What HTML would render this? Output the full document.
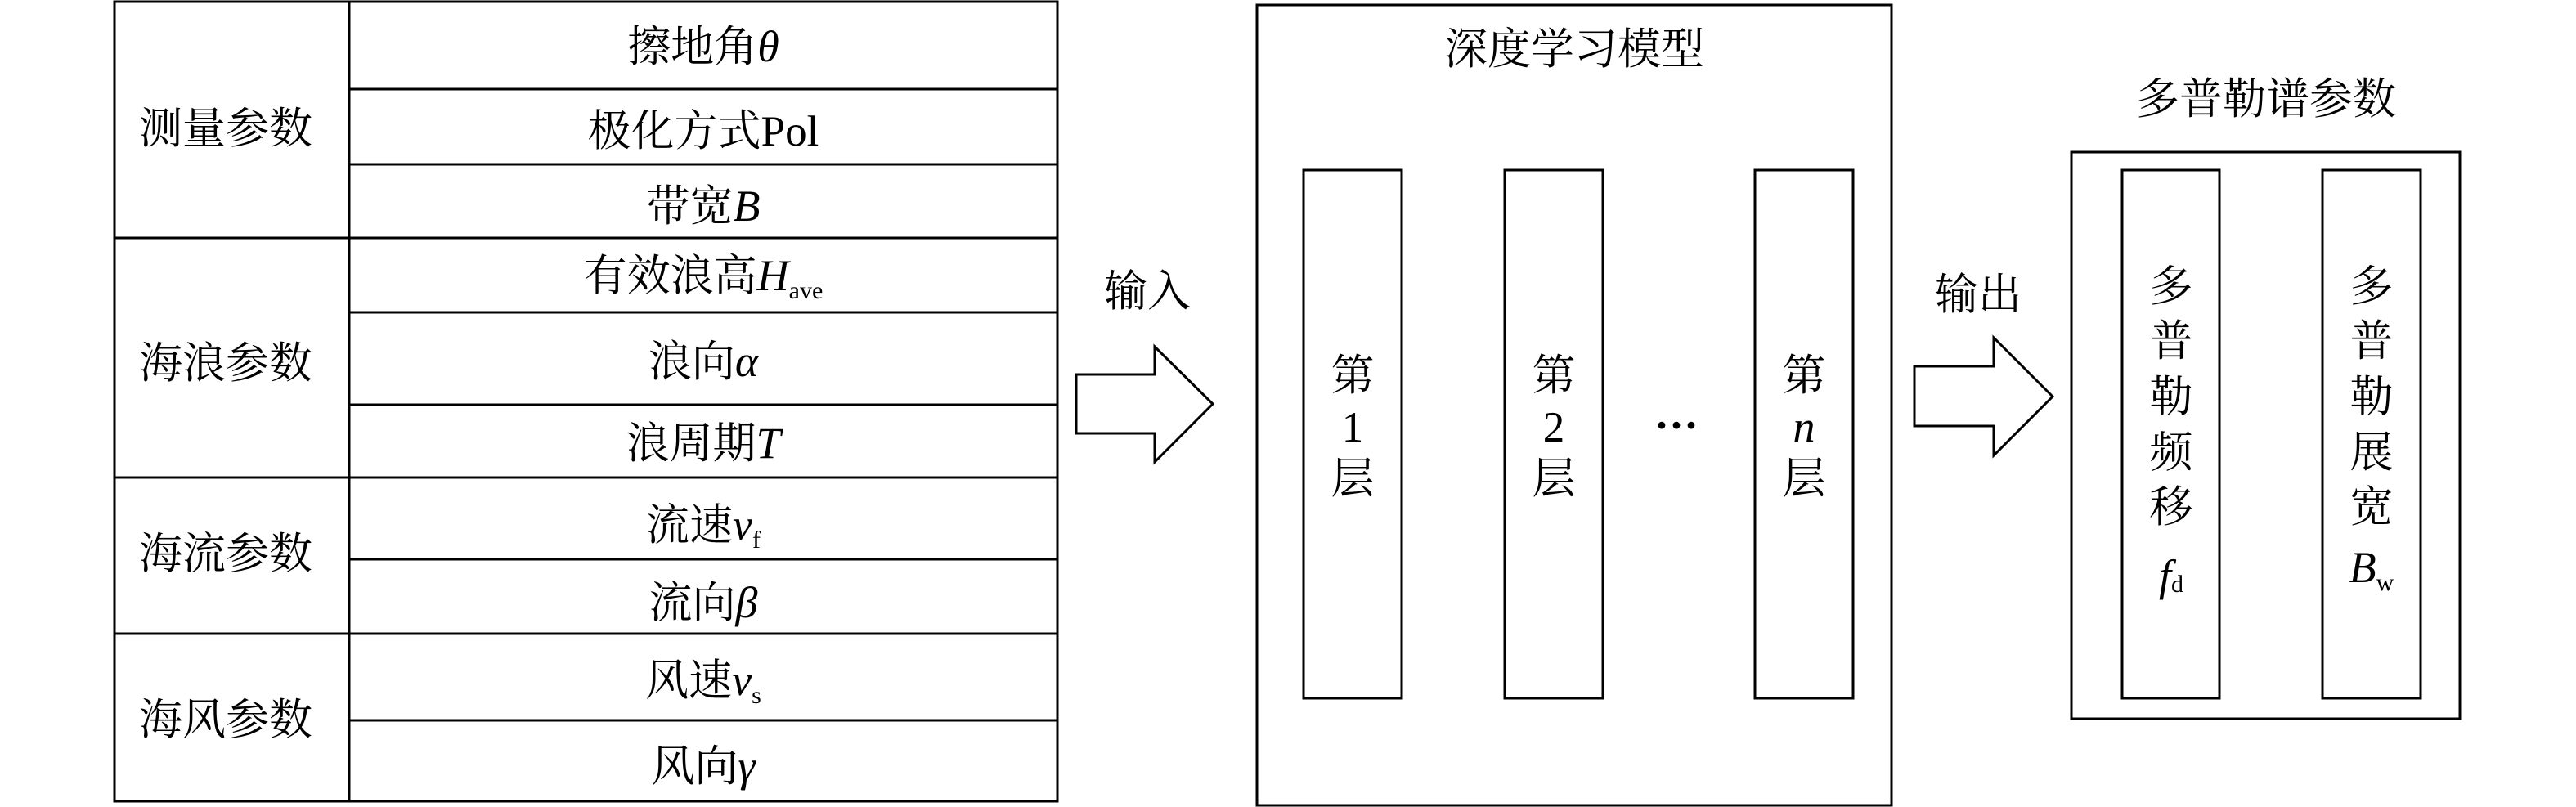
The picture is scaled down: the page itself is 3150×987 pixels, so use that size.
<!DOCTYPE html>
<html><head><meta charset="utf-8"><style>
html,body{margin:0;padding:0;background:#fff;}
svg{display:block;}
.c{font-family:"Noto Serif CJK SC","Liberation Serif",serif;font-size:53px;fill:#000;}
.i{font-family:"Liberation Serif",serif;font-style:italic;font-size:54px;}
.s{font-family:"Liberation Serif",serif;font-style:normal;font-size:30px;}
.d{font-family:"Liberation Serif",serif;font-size:54px;font-weight:bold;}
</style></head><body>
<svg width="3150" height="987" viewBox="0 0 3150 987" xmlns="http://www.w3.org/2000/svg">
<rect width="3150" height="987" fill="#fff"/>
<g fill="none" stroke="#000" stroke-width="3">
<rect x="140" y="2" width="1153" height="978"/>
<line x1="427" y1="2" x2="427" y2="980"/>
<line x1="427" y1="109" x2="1293" y2="109"/>
<line x1="427" y1="201" x2="1293" y2="201"/>
<line x1="140" y1="291" x2="1293" y2="291"/>
<line x1="427" y1="382" x2="1293" y2="382"/>
<line x1="427" y1="495" x2="1293" y2="495"/>
<line x1="140" y1="584" x2="1293" y2="584"/>
<line x1="427" y1="684" x2="1293" y2="684"/>
<line x1="140" y1="775" x2="1293" y2="775"/>
<line x1="427" y1="881" x2="1293" y2="881"/>
<rect x="1537" y="6" width="776" height="979"/>
<rect x="1594" y="208" width="120" height="646"/>
<rect x="1840" y="208" width="120" height="646"/>
<rect x="2146" y="208" width="120" height="646"/>
<rect x="2533" y="186" width="475" height="693"/>
<rect x="2595" y="208" width="119" height="646"/>
<rect x="2840" y="208" width="120" height="646"/>
<polygon points="1316,458 1412,458 1412,424 1483,494 1412,565 1412,530 1316,530"/>
<polygon points="2341,448 2438,448 2438,413 2510,485 2438,557 2438,521 2341,521"/>
</g>
<g class="c" text-anchor="middle">
<text x="276" y="175">测量参数</text>
<text x="276" y="462">海浪参数</text>
<text x="276" y="695">海流参数</text>
<text x="276" y="898">海风参数</text>
<text x="860" y="75">擦地角<tspan class="i">θ</tspan></text>
<text x="860" y="178">极化方式<tspan font-family="Liberation Serif">Pol</tspan></text>
<text x="860" y="270">带宽<tspan class="i">B</tspan></text>
<text x="860" y="355">有效浪高<tspan class="i">H</tspan><tspan class="s" dy="10">ave</tspan></text>
<text x="860" y="460">浪向<tspan class="i">α</tspan></text>
<text x="860" y="560">浪周期<tspan class="i">T</tspan></text>
<text x="860" y="660">流速<tspan class="i">v</tspan><tspan class="s" dy="10">f</tspan></text>
<text x="860" y="755">流向<tspan class="i">β</tspan></text>
<text x="860" y="850">风速<tspan class="i">v</tspan><tspan class="s" dy="10">s</tspan></text>
<text x="860" y="955">风向<tspan class="i">γ</tspan></text>
<text x="1403" y="374">输入</text>
<text x="2419" y="378">输出</text>
<text x="1925" y="78">深度学习模型</text>
<text x="2771" y="139">多普勒谱参数</text>
<text x="1654" y="477">第</text><text x="1654" y="540" font-family="Liberation Serif">1</text><text x="1654" y="603">层</text>
<text x="1900" y="477">第</text><text x="1900" y="540" font-family="Liberation Serif">2</text><text x="1900" y="603">层</text>
<text x="2206" y="477">第</text><text x="2206" y="540" class="i">n</text><text x="2206" y="603">层</text>
<text x="2050" y="538" class="d">···</text>
<text x="2655" y="368">多</text><text x="2655" y="435">普</text><text x="2655" y="503">勒</text><text x="2655" y="571">频</text><text x="2655" y="638">移</text>
<text x="2655" y="722"><tspan class="i">f</tspan><tspan class="s" dy="2">d</tspan></text>
<text x="2900" y="368">多</text><text x="2900" y="435">普</text><text x="2900" y="503">勒</text><text x="2900" y="571">展</text><text x="2900" y="638">宽</text>
<text x="2900" y="712"><tspan class="i">B</tspan><tspan class="s" dy="10">w</tspan></text>
</g>
</svg>
</body></html>
